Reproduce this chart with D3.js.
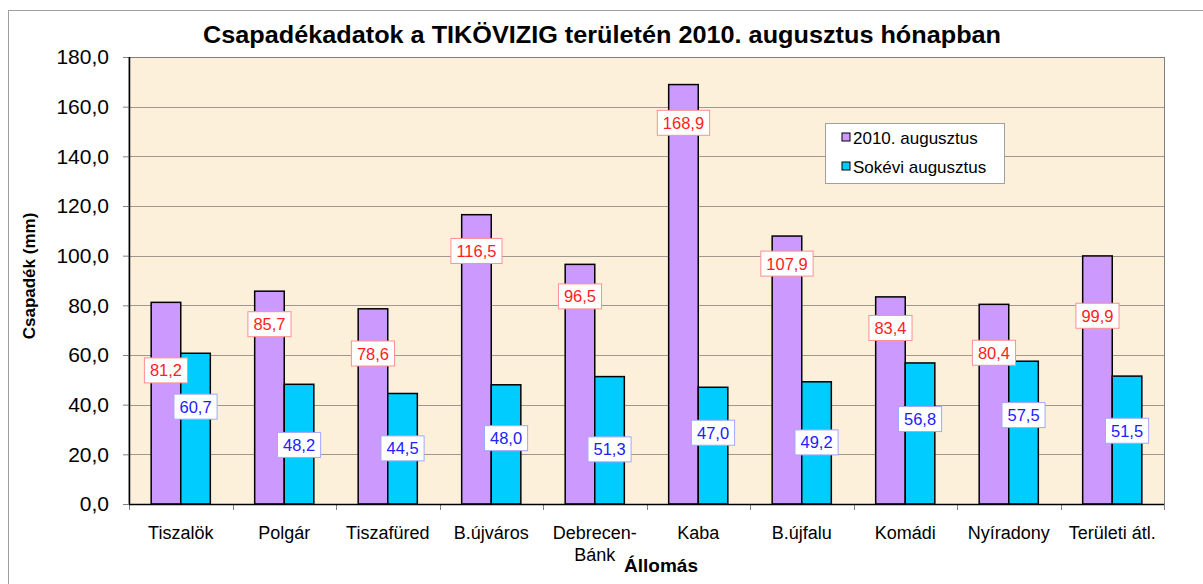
<!DOCTYPE html>
<html lang="hu">
<head>
<meta charset="utf-8">
<title>Csapadékadatok</title>
<script src="https://d3js.org/d3.v7.min.js"></script>
<style>
  body { margin: 0; background: #fff; }
  text { font-family: Arial, "Liberation Sans", sans-serif; }
</style>
</head>
<body>
<script>
// data
var stations = ["Tiszalök", "Polgár", "Tiszafüred", "B.újváros", "Debrecen-Bánk",
                "Kaba", "B.újfalu", "Komádi", "Nyíradony", "Területi átl."];
var aug2010 = [81.2, 85.7, 78.6, 116.5, 96.5, 168.9, 107.9, 83.4, 80.4, 99.9];
var longTerm = [60.7, 48.2, 44.5, 48.0, 51.3, 47.0, 49.2, 56.8, 57.5, 51.5];
var seriesNames = ["2010. augusztus", "Sokévi augusztus"];
var yTicks = [0, 20, 40, 60, 80, 100, 120, 140, 160, 180];

// where the (hand placed) value labels sit, in mm on the y axis
var labelAt2010 = [53.8, 72.4, 60.6, 101.9, 83.6, 153.5, 96.8, 70.9, 60.9, 75.8];
var labelAtLong = [39.2, 23.8, 22.4, 26.5, 22.0, 28.7, 24.8, 34.2, 35.8, 29.5];

var W = 1203, H = 584;
var plotL = 129, plotR = 1164, plotT = 57, plotB = 504;

var svg = d3.select("body").append("svg").attr("width", W).attr("height", H);

// chart frame
svg.append("line").attr("x1", 8.5).attr("x2", 8.5).attr("y1", 10).attr("y2", H)
   .attr("stroke", "#a0a0a0");
svg.append("line").attr("x1", 8).attr("x2", W).attr("y1", 10.5).attr("y2", 10.5)
   .attr("stroke", "#a0a0a0");

var x = d3.scaleBand().domain(stations).range([plotL, plotR]).paddingInner(0).paddingOuter(0);
var xs = d3.scaleBand().domain([0, 1]).range([0, x.bandwidth()]).paddingInner(0).paddingOuter(0.75);
var y = d3.scaleLinear().domain([0, 180]).range([plotB, plotT]);

// plot area
svg.append("rect").attr("x", plotL).attr("y", plotT + 0.5)
   .attr("width", plotR - plotL + 0.5).attr("height", plotB - plotT)
   .attr("fill", "#fcf0da").attr("stroke", "#808080");

// gridlines
svg.append("g").selectAll("line").data(yTicks.filter(function(t){ return t > 0 && t < 180; }))
   .enter().append("line")
   .attr("x1", plotL).attr("x2", plotR)
   .attr("y1", function(d){ return Math.round(y(d)) + 0.5; })
   .attr("y2", function(d){ return Math.round(y(d)) + 0.5; })
   .attr("stroke", "#a09890").attr("stroke-width", 1);

// y axis
var yAxis = d3.axisLeft(y).tickValues(yTicks).tickSize(6).tickPadding(14)
   .tickFormat(function(d){ return d3.format(".1f")(d).replace(".", ","); });
var gy = svg.append("g").attr("transform", "translate(" + plotL + ",0)").call(yAxis);
gy.select(".domain").remove();
gy.selectAll(".tick line").attr("stroke", "#808080");
gy.selectAll(".tick text").attr("font-size", "21px").attr("fill", "#000")
  .style("font-family", "Arial, 'Liberation Sans', sans-serif");
svg.append("line").attr("x1", plotL + 0.5).attr("x2", plotL + 0.5).attr("y1", plotT).attr("y2", plotB)
   .attr("stroke", "#000").attr("stroke-width", 1.5);

// x ticks at band edges
var edges = stations.map(function(s){ return x(s); }).concat([plotR]);
svg.append("g").selectAll("line").data(edges).enter().append("line")
   .attr("x1", function(d){ return Math.round(d) + 0.5; })
   .attr("x2", function(d){ return Math.round(d) + 0.5; })
   .attr("y1", plotB).attr("y2", plotB + 6)
   .attr("stroke", "#808080");

// bars
var colors = ["#cc99ff", "#00ccff"];
var series = [aug2010, longTerm];
series.forEach(function(vals, si){
  svg.append("g").selectAll("rect").data(vals).enter().append("rect")
     .attr("x", function(d, i){ return x(stations[i]) + xs(si); })
     .attr("y", function(d){ return y(d); })
     .attr("width", xs.bandwidth())
     .attr("height", function(d){ return y(0) - y(d); })
     .attr("fill", colors[si]).attr("stroke", "#000").attr("stroke-width", 1.5);
});

svg.append("line").attr("x1", plotL).attr("x2", plotR)
   .attr("y1", plotB + 0.5).attr("y2", plotB + 0.5)
   .attr("stroke", "#000").attr("stroke-width", 1.5);

// value labels
var labelStyles = [
  {text: "#ff2020", border: "#ff9090", at: labelAt2010},
  {text: "#2020ff", border: "#a0a8ff", at: labelAtLong}
];
series.forEach(function(vals, si){
  var st = labelStyles[si];
  var g = svg.append("g");
  vals.forEach(function(v, i){
    var cx = x(stations[i]) + xs(si) + xs.bandwidth() / 2;
    var cy = y(st.at[i]);
    var lbl = g.append("g");
    var t = lbl.append("text").attr("x", cx).attr("y", cy + 6)
       .attr("text-anchor", "middle").attr("font-size", "16.5px").attr("fill", st.text)
       .text(d3.format(".1f")(v).replace(".", ","));
    var w = t.node().getComputedTextLength() + 11;
    lbl.insert("rect", "text").attr("x", cx - w / 2).attr("y", cy - 12.5)
       .attr("width", w).attr("height", 25)
       .attr("fill", "#fff").attr("stroke", st.border).attr("stroke-width", 1);
  });
});

// category labels
svg.append("g").selectAll("text").data(stations).enter().append("text")
   .attr("x", function(d){ return x(d) + x.bandwidth() / 2; })
   .attr("y", 539)
   .attr("text-anchor", "middle").attr("font-size", "18px").attr("fill", "#000")
   .each(function(d){
     var parts = d.indexOf("-") > 0 ? [d.split("-")[0] + "-", d.split("-")[1]] : [d];
     var el = d3.select(this);
     parts.forEach(function(p, k){
       el.append("tspan").attr("x", x(d) + x.bandwidth() / 2).attr("dy", k ? 22 : 0).text(p);
     });
   });

// titles
svg.append("text").attr("x", 602).attr("y", 43).attr("text-anchor", "middle")
   .attr("font-size", "23px").attr("font-weight", "bold")
   .attr("textLength", 798).attr("lengthAdjust", "spacingAndGlyphs")
   .text("Csapadékadatok a TIKÖVIZIG területén 2010. augusztus hónapban");

svg.append("text").attr("x", 661).attr("y", 572).attr("text-anchor", "middle")
   .attr("font-size", "19px").attr("font-weight", "bold").text("Állomás");

svg.append("text").attr("transform", "translate(35,276) rotate(-90)")
   .attr("text-anchor", "middle").attr("font-size", "17px").attr("font-weight", "bold")
   .text("Csapadék (mm)");

// legend
var lg = svg.append("g").attr("transform", "translate(825,123)");
lg.append("rect").attr("x", 0.5).attr("y", 0.5).attr("width", 179).attr("height", 60)
  .attr("fill", "#fff").attr("stroke", "#a0a0a0");
seriesNames.forEach(function(n, i){
  lg.append("rect").attr("x", 17).attr("y", 10 + i * 29).attr("width", 8).attr("height", 8)
    .attr("fill", colors[i]).attr("stroke", "#000").attr("stroke-width", 1);
  lg.append("text").attr("x", 28).attr("y", 21 + i * 29)
    .attr("font-size", "17px").attr("fill", "#000").text(n);
});
</script>
</body>
</html>
